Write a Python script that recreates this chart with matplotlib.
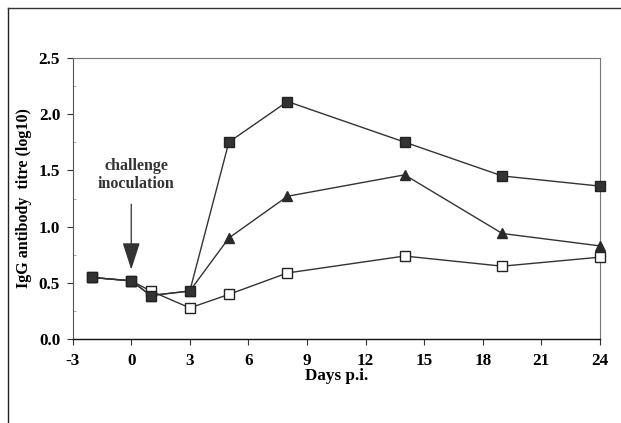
import matplotlib
matplotlib.use("Agg")
import matplotlib.pyplot as plt
from matplotlib.lines import Line2D
from matplotlib.ticker import MultipleLocator

days = [-2, 0, 1, 3, 5, 8, 14, 19, 24]
filled_sq = [0.55, 0.52, 0.39, 0.43, 1.75, 2.11, 1.75, 1.45, 1.36]
triangle = [0.55, 0.52, 0.39, 0.43, 0.90, 1.27, 1.46, 0.94, 0.83]
open_sq = [0.55, 0.52, 0.43, 0.28, 0.40, 0.59, 0.74, 0.65, 0.73]

xticks = [-3, 0, 3, 6, 9, 12, 15, 18, 21, 24]
yticks = [0.0, 0.5, 1.0, 1.5, 2.0, 2.5]
xlabel = "Days p.i."
ylabel = "IgG antibody  titre (log10)"
arrow_text = "challenge\ninoculation"

plt.rcParams['font.family'] = ['Liberation Serif', 'DejaVu Serif']
plt.rcParams['font.weight'] = 'bold'

fig = plt.figure(figsize=(6.21, 4.23), dpi=100)
ax = fig.add_axes([0.117, 0.1974, 0.849, 0.6666])

line_col = '#333333'
ax.plot(days, open_sq, color=line_col, lw=1.0, marker='s', ms=6.8,
        mfc='white', mec='#222222', mew=1.0, zorder=3, clip_on=False)
ax.plot(days, triangle, color=line_col, lw=1.0, marker='^', ms=7.5,
        mfc='#2a2a2a', mec='#2a2a2a', zorder=4, clip_on=False)
ax.plot(days, filled_sq, color=line_col, lw=1.0, marker='s', ms=6.8,
        mfc='#333333', mec='#222222', zorder=5, clip_on=False)

ax.set_xlim(-3, 24)
ax.set_ylim(0, 2.5)
ax.set_xticks(xticks)
ax.set_xticklabels([str(t) for t in xticks])
ax.set_yticks(yticks)
ax.set_yticklabels([f"{t:.1f}" for t in yticks])
ax.yaxis.set_minor_locator(MultipleLocator(0.25))

ax.tick_params(axis='both', which='major', direction='out', length=4,
               width=0.8, labelsize=12.3, color='#333333')
ax.tick_params(axis='x', which='major', pad=6)
ax.tick_params(axis='y', which='major', pad=5)
ax.tick_params(axis='y', which='minor', direction='in', length=2,
               width=0.6, color='#999999')

for side in ['top', 'right']:
    ax.spines[side].set_color('#777777')
    ax.spines[side].set_linewidth(0.8)
ax.spines['left'].set_color('#555555')
ax.spines['left'].set_linewidth(0.8)
ax.spines['bottom'].set_color('#111111')
ax.spines['bottom'].set_linewidth(1.0)

ax.set_xlabel(xlabel, fontsize=12.3, fontweight='bold', labelpad=-1)
ax.set_ylabel(ylabel, fontsize=11.5, fontweight='bold', labelpad=5)

# challenge inoculation arrow
ax.annotate('', xy=(0, 0.62), xytext=(0, 1.20),
            arrowprops=dict(arrowstyle='-|>,head_length=1.7,head_width=0.55',
                            color='#333333', lw=0.9, shrinkA=0, shrinkB=0))
ax.text(0.25, 1.46, arrow_text, ha='center', va='center', fontsize=11.5,
        fontweight='bold', color='#333333', linespacing=1.15)

# outer frame of the scanned figure (left and top)
fig.add_artist(Line2D([0.013, 0.013], [0.0, 0.981], transform=fig.transFigure,
                      color='#222222', lw=1.0))
fig.add_artist(Line2D([0.013, 1.0], [0.981, 0.981], transform=fig.transFigure,
                      color='#333333', lw=1.0))

fig.savefig('out.png', dpi=100)
